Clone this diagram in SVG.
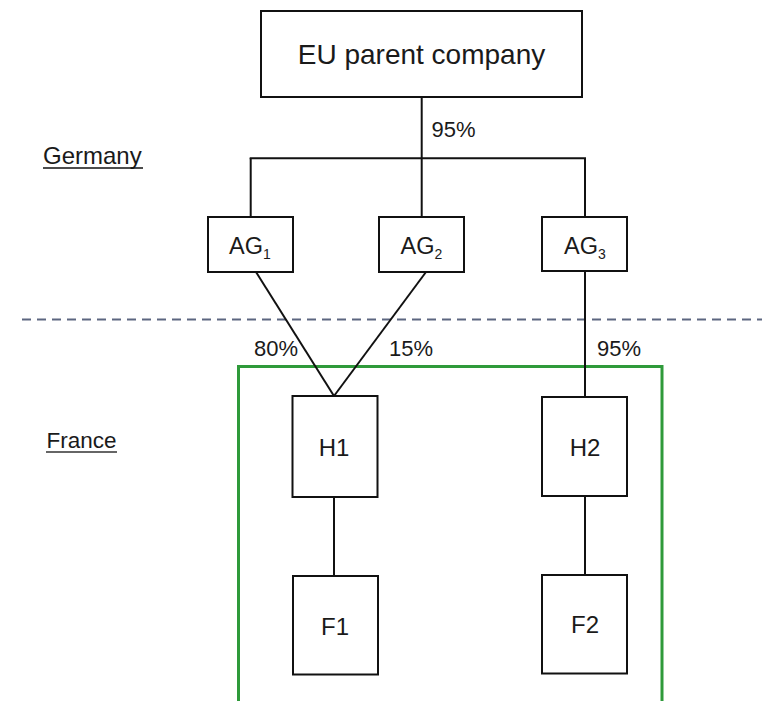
<svg xmlns="http://www.w3.org/2000/svg" width="762" height="701" viewBox="0 0 762 701">
<style>
.box{fill:#fff;stroke:#111;stroke-width:2}
.ln{stroke:#111;stroke-width:2;fill:none}
.t{font-family:"Liberation Sans",Arial,sans-serif;fill:#1a1a1a}
</style>
<rect width="762" height="701" fill="#fff"/>
<line x1="22" y1="319.5" x2="762" y2="319.5" stroke="#5c6680" stroke-width="2" stroke-dasharray="9,6"/>
<rect x="238.5" y="366.5" width="423.5" height="340" fill="none" stroke="#2f9a3a" stroke-width="3"/>
<g id="labels">
<text class="t" x="43" y="164" font-size="24">Germany</text>
<line x1="43" y1="168" x2="143" y2="168" stroke="#111" stroke-width="1.6"/>
<text class="t" x="46.5" y="448" font-size="22.5">France</text>
<line x1="46" y1="452" x2="117" y2="452" stroke="#333" stroke-width="1.6"/>
</g>
<g id="connectors">
<line class="ln" x1="421.7" y1="97" x2="421.7" y2="158"/>
<line class="ln" x1="249.7" y1="158.3" x2="586" y2="158.3"/>
<line class="ln" x1="250.7" y1="158" x2="250.7" y2="217"/>
<line class="ln" x1="421.7" y1="158" x2="421.7" y2="217"/>
<line class="ln" x1="585" y1="158" x2="585" y2="217"/>
<line class="ln" x1="585" y1="271" x2="585" y2="397"/>
<line class="ln" x1="256" y1="272" x2="334" y2="396"/>
<line class="ln" x1="426" y1="272" x2="334" y2="396"/>
<line class="ln" x1="334" y1="497" x2="334" y2="576"/>
<line class="ln" x1="585" y1="496" x2="585" y2="575"/>
<text class="t" x="431.5" y="136.5" font-size="22">95%</text>
<text class="t" x="254" y="356" font-size="22">80%</text>
<text class="t" x="389" y="356" font-size="22">15%</text>
<text class="t" x="597" y="356" font-size="22">95%</text>
</g>
<g id="parent">
<rect class="box" x="261" y="11" width="321" height="86"/>
<text class="t" x="421.5" y="64" font-size="28" text-anchor="middle">EU parent company</text>
</g>
<g id="ag1">
<rect class="box" x="208" y="217" width="85" height="55"/>
<text class="t" x="250" y="254" font-size="23.5" text-anchor="middle">AG<tspan font-size="14" dy="5">1</tspan></text>
</g>
<g id="ag2">
<rect class="box" x="379" y="217" width="85" height="55"/>
<text class="t" x="421.5" y="254" font-size="23.5" text-anchor="middle">AG<tspan font-size="14" dy="5">2</tspan></text>
</g>
<g id="ag3">
<rect class="box" x="542" y="217" width="85" height="54"/>
<text class="t" x="585" y="253.5" font-size="23.5" text-anchor="middle">AG<tspan font-size="14" dy="5">3</tspan></text>
</g>
<g id="h1">
<rect class="box" x="292.5" y="396" width="85" height="101"/>
<text class="t" x="334" y="456" font-size="24" text-anchor="middle">H1</text>
</g>
<g id="h2">
<rect class="box" x="542" y="397" width="85" height="99"/>
<text class="t" x="585" y="456" font-size="24" text-anchor="middle">H2</text>
</g>
<g id="f1">
<rect class="box" x="293" y="576" width="85" height="98.5"/>
<text class="t" x="335" y="635" font-size="24" text-anchor="middle">F1</text>
</g>
<g id="f2">
<rect class="box" x="542" y="575" width="85" height="98.5"/>
<text class="t" x="585" y="633" font-size="24" text-anchor="middle">F2</text>
</g>
</svg>
